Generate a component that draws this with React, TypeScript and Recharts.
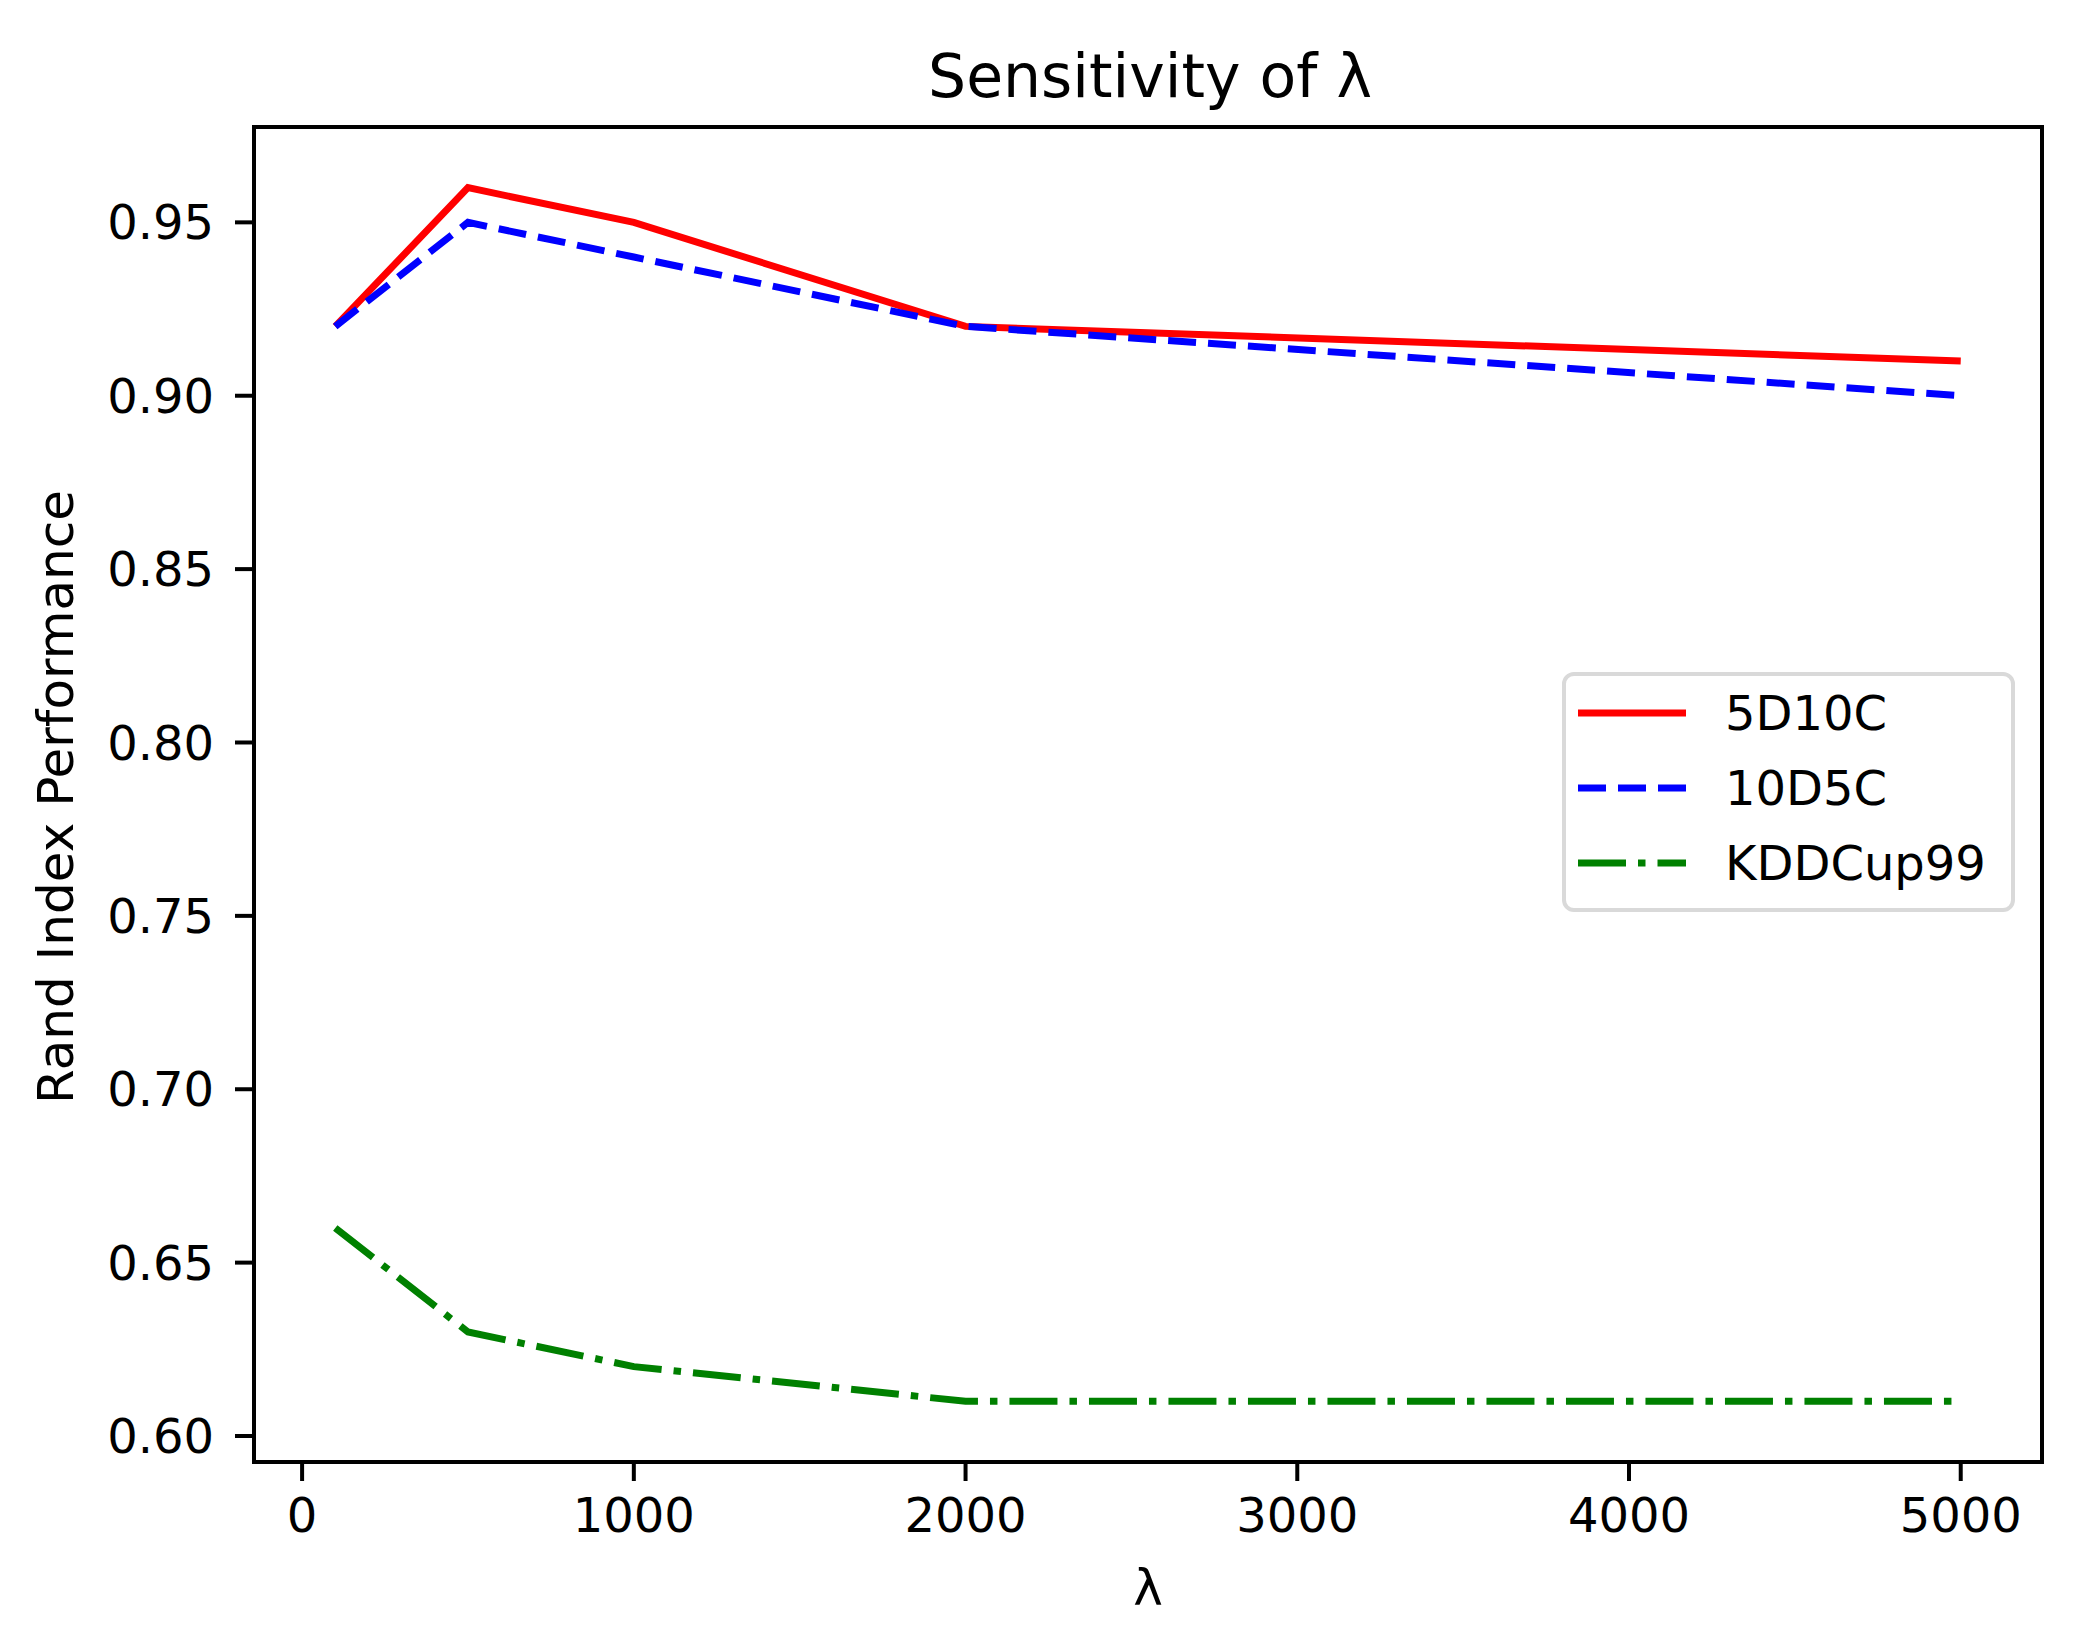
/**
 * Line chart of Rand Index performance against lambda, in matplotlib style
 */
import { LineChart, Line, XAxis, YAxis, ReferenceArea, Legend } from 'recharts';

const lambdas = [100, 500, 1000, 2000, 5000];
const d5c10 = [0.92, 0.96, 0.95, 0.92, 0.91];
const d10c5 = [0.92, 0.95, 0.94, 0.92, 0.9];
const kddCup = [0.66, 0.63, 0.62, 0.61, 0.61];

const xTicks = [0, 1000, 2000, 3000, 4000, 5000];
const yTicks = [0.6, 0.65, 0.7, 0.75, 0.8, 0.85, 0.9, 0.95];
const xDomain = [-145, 5245];
const yDomain = [0.5925, 0.9775];

const seriesInfo = [
  { key: '5D10C', color: '#ff0000', dash: undefined },
  { key: '10D5C', color: '#0000ff', dash: '28 12' },
  { key: 'KDDCup99', color: '#008000', dash: '48 12 7.5 12' },
];

const W = 2096;
const H = 1640;
const FONT = '"DejaVu Sans", sans-serif';

const chartData = lambdas.map((l, i) => ({
  lambda: l,
  '5D10C': d5c10[i],
  '10D5C': d10c5[i],
  KDDCup99: kddCup[i],
}));

/** Legend box styled like a matplotlib legend frame */
function LegendBox() {
  return (
    <div
      style={{
        width: 445,
        height: 232,
        border: '4px solid #d9d9d9',
        borderRadius: 12,
        background: 'rgba(255,255,255,0.8)',
        fontFamily: FONT,
        fontSize: 48,
        color: '#000',
        position: 'relative',
      }}
    >
      {seriesInfo.map((s, i) => (
        <div
          key={s.key}
          style={{
            position: 'absolute',
            left: 12,
            top: 37 + i * 75 - 30,
            height: 60,
            display: 'flex',
            alignItems: 'center',
          }}
        >
          <svg width={110} height={20} style={{ display: 'block' }}>
            <line
              x1={0}
              y1={10}
              x2={108}
              y2={10}
              stroke={s.color}
              strokeWidth={7}
              strokeDasharray={s.dash}
            />
          </svg>
          <span style={{ marginLeft: 37, lineHeight: '60px' }}>{s.key}</span>
        </div>
      ))}
    </div>
  );
}

export default function App() {
  return (
    <div style={{ position: 'absolute', left: 0, top: 0, width: W, height: H, background: '#fff' }}>
      <LineChart
        width={W}
        height={H}
        data={chartData}
        margin={{ top: 127, right: 54, left: 0, bottom: 0 }}
      >
        <XAxis
          dataKey="lambda"
          type="number"
          domain={xDomain}
          ticks={xTicks}
          allowDataOverflow
          height={178}
          axisLine={false}
          tickSize={19}
          tickMargin={17}
          tickLine={{ stroke: '#000', strokeWidth: 4 }}
          tick={{ fill: '#000', fontSize: 48, fontFamily: FONT }}
        />
        <YAxis
          type="number"
          domain={yDomain}
          ticks={yTicks}
          allowDataOverflow
          width={254}
          axisLine={false}
          tickSize={19}
          tickMargin={21}
          tickFormatter={(v: number) => v.toFixed(2)}
          tickLine={{ stroke: '#000', strokeWidth: 4 }}
          tick={{ fill: '#000', fontSize: 48, fontFamily: FONT }}
        />
        {seriesInfo.map((s) => (
          <Line
            key={s.key}
            type="linear"
            dataKey={s.key}
            stroke={s.color}
            strokeWidth={7}
            strokeDasharray={s.dash}
            dot={false}
            activeDot={false}
            isAnimationActive={false}
          />
        ))}
        <ReferenceArea
          x1={xDomain[0]}
          x2={xDomain[1]}
          y1={yDomain[0]}
          y2={yDomain[1]}
          fill="none"
          stroke="#000"
          strokeWidth={4}
          ifOverflow="visible"
        />
        <Legend
          layout="vertical"
          align="center"
          verticalAlign="middle"
          content={() => <LegendBox />}
          wrapperStyle={{ left: 1562, top: 672, width: 453, height: 240 }}
        />
      </LineChart>
      <svg
        width={W}
        height={H}
        style={{ position: 'absolute', left: 0, top: 0, pointerEvents: 'none' }}
      >
        <text x={1150} y={97} textAnchor="middle" fontSize={60} fontFamily={FONT} fill="#000">
          Sensitivity of λ
        </text>
        <text x={1148} y={1605} textAnchor="middle" fontSize={50} fontFamily={FONT} fill="#000">
          λ
        </text>
        <text
          x={56}
          y={797}
          textAnchor="middle"
          dominantBaseline="central"
          fontSize={50}
          fontFamily={FONT}
          fill="#000"
          transform="rotate(-90 56 797)"
        >
          Rand Index Performance
        </text>
      </svg>
    </div>
  );
}
